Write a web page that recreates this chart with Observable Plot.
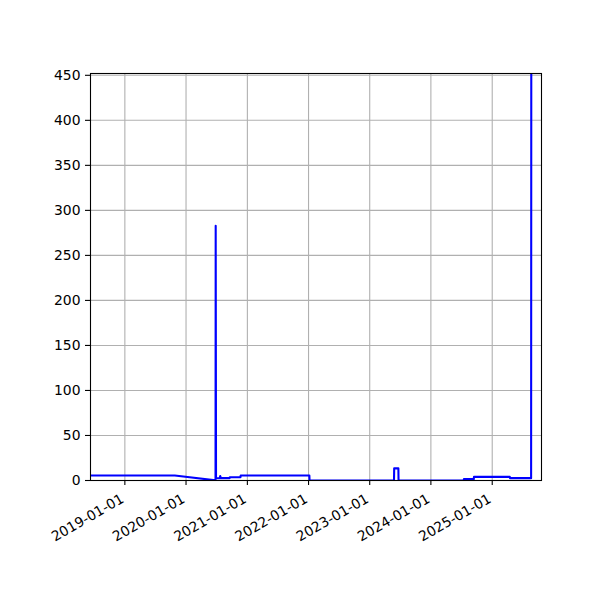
<!DOCTYPE html>
<html>
<head>
<meta charset="utf-8">
<script src="https://cdn.jsdelivr.net/npm/d3@7"></script>
<script src="https://cdn.jsdelivr.net/npm/@observablehq/plot@0.6"></script>
<style>
  html, body { margin: 0; padding: 0; background: #fff; }
  #chart svg { display: block; }
</style>
</head>
<body>
<div id="chart"></div>
<script>
const dates = [
  "2018-06-10", "2019-10-26", "2020-06-12", "2020-06-25", "2020-06-26", "2020-06-28",
  "2020-07-20", "2020-07-23", "2020-07-27", "2020-09-17", "2020-09-18", "2020-11-21",
  "2020-11-22", "2022-01-06", "2022-01-07", "2023-05-26", "2023-05-27", "2023-06-21",
  "2023-06-22", "2024-07-15", "2024-07-16", "2024-09-13", "2024-09-14", "2025-04-16",
  "2025-04-17", "2025-08-21", "2025-08-22"
];
const values = [
  5.5, 5.5, 0.5, 0.5, 283, 2.5,
  2.6, 5, 2.6, 2.6, 3.7, 3.7,
  5.5, 5.5, 0, 0, 13.5, 13.5,
  0, 0, 1.5, 1.5, 4, 4,
  2.6, 2.6, 452
];
const xTickLabels = ["2019-01-01", "2020-01-01", "2021-01-01", "2022-01-01", "2023-01-01", "2024-01-01", "2025-01-01"];
const yTicks = [0, 50, 100, 150, 200, 250, 300, 350, 400, 450];
const xDomain = ["2018-06-10", "2025-10-22"];
const yDomain = [0, 452];

const parse = d3.utcParse("%Y-%m-%d");
const data = dates.map((d, i) => ({date: parse(d), value: values[i]}));
const xTicks = xTickLabels.map(parse);

const chart = Plot.plot({
  width: 600,
  height: 600,
  marginLeft: 90,
  marginRight: 59,
  marginTop: 73,
  marginBottom: 120,
  style: {fontFamily: "DejaVu Sans", fontSize: "13.9px", background: "#fff", color: "#000"},
  x: {type: "utc", domain: xDomain.map(parse)},
  y: {domain: yDomain},
  marks: [
    Plot.gridX(xTicks, {stroke: "#b0b0b0", strokeOpacity: 1, strokeWidth: 1.1}),
    Plot.gridY(yTicks, {stroke: "#b0b0b0", strokeOpacity: 1, strokeWidth: 1.1}),
    Plot.line(data, {x: "date", y: "value", stroke: "blue", strokeWidth: 2.08, clip: true}),
    Plot.frame({stroke: "black", strokeWidth: 1.1}),
    Plot.axisY({ticks: yTicks, tickSize: 5, tickPadding: 5, strokeWidth: 1.1, label: null, fontSize: 13.9}),
    Plot.axisX({ticks: xTicks, tickSize: 5, strokeWidth: 1.1, text: null, label: null}),
    Plot.text(xTicks, {
      x: d => d,
      frameAnchor: "bottom",
      dy: 21,
      rotate: -30,
      textAnchor: "end",
      lineAnchor: "bottom",
      text: d => d3.utcFormat("%Y-%m-%d")(d),
      fontSize: 13.9,
      fill: "black"
    })
  ]
});
document.getElementById("chart").appendChild(chart);
</script>
</body>
</html>
